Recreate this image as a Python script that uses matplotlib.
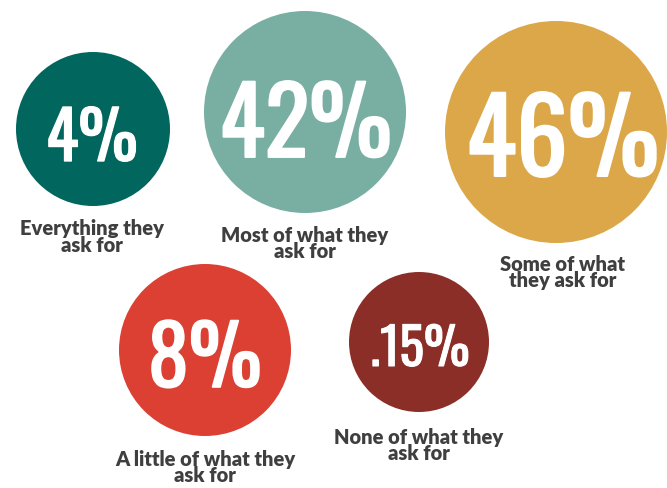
import matplotlib
matplotlib.use("Agg")
import matplotlib.pyplot as plt
import matplotlib.patheffects as pe
from matplotlib.patches import Circle

# share of requests granted
shares = [4, 42, 46, 8, 0.15]
labels = ["Everything they\nask for",
          "Most of what they\nask for",
          "Some of what\nthey ask for",
          "A little of what they\nask for",
          "None of what they\nask for"]
colors = ["#00665e", "#78afa2", "#dba748", "#db4033", "#8b2e27"]

# layout in pixels (y grows downward)
centers = [(93, 130), (305, 113), (556, 133), (205, 351), (419, 343)]
radii = [77, 101, 111, 86, 70]
num_pos = [(92, 162), (306, 158), (563, 177), (205, 388), (420, 367)]
num_size = [48, 67, 74, 59, 37]
label_pos = [(92, 235), (305, 242), (563, 271), (205, 466), (419, 444)]


def fmt(v):
    s = f"{v:g}"
    if s.startswith("0."):
        s = s[1:]
    return s + "%"


fig = plt.figure(figsize=(6.67, 4.89), dpi=100)
ax = fig.add_axes([0, 0, 1, 1])
ax.set_xlim(0, 667)
ax.set_ylim(489, 0)
ax.set_aspect("equal")
ax.axis("off")

for i, v in enumerate(shares):
    ax.add_patch(Circle(centers[i], radii[i], color=colors[i], lw=0))
    x, y = num_pos[i]
    # thin white outline to thicken the condensed digits
    ax.text(x, y, fmt(v), ha="center", va="baseline", color="white",
            family="Oswald", fontsize=num_size[i],
            path_effects=[pe.withStroke(linewidth=num_size[i] / 50, foreground="white")])
    lx, ly = label_pos[i]
    first, second = labels[i].split("\n")
    ax.text(lx, ly, first, ha="center", va="baseline", color="#3f3f3f",
            family="Lato", weight=800, fontsize=14.5)
    ax.text(lx, ly + 16.5, second, ha="center", va="baseline", color="#3f3f3f",
            family="Lato", weight=800, fontsize=14.5)

fig.savefig("out.png")
